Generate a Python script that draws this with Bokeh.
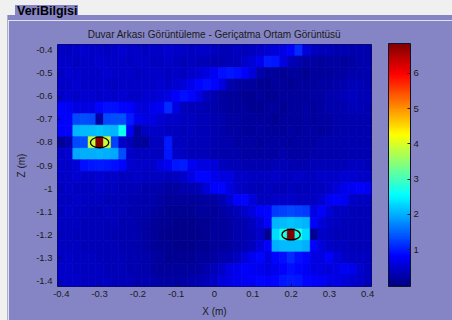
import numpy as np
from bokeh.plotting import figure
from bokeh.models import (LinearColorMapper, ColorBar, Range1d, ColumnDataSource,
                          FixedTicker, Div)
from bokeh.layouts import column, row
from bokeh.embed import file_html
from bokeh.resources import INLINE

# ---------------- data ----------------
title_text = "Duvar Arkası Görüntüleme - Geriçatma Ortam Görüntüsü"
panel_tab = "VeriBilgisi"
x_label = "X (m)"
z_label = "Z (m)"
x_ticks = [-0.4, -0.3, -0.2, -0.1, 0.0, 0.1, 0.2, 0.3, 0.4]
x_tick_labels = ["-0.4", "-0.3", "-0.2", "-0.1", "0", "0.1", "0.2", "0.3", "0.4"]
z_ticks = [-0.4, -0.5, -0.6, -0.7, -0.8, -0.9, -1.0, -1.1, -1.2, -1.3, -1.4]
z_tick_labels = ["-0.4", "-0.5", "-0.6", "-0.7", "-0.8", "-0.9", "-1", "-1.1", "-1.2", "-1.3", "-1.4"]
cbar_ticks = [1, 2, 3, 4, 5, 6]
value_low, value_high = -0.05, 6.85

x_first, x_step = -0.4, 0.02     # 41 columns
z_first, z_step = -0.4, -0.05    # 21 rows (top row first)

target_x = [-0.3, 0.2]
target_z = [-0.8, -1.2]

rows = [
    [0.45,0.4,0.45,0.5,0.45,0.45,0.4,0.45,0.5,0.45,0.45,0.4,0.45, 0.45,0.5,0.45,0.45,0.4,0.45,0.45, 0.4,0.35,0.35,0.4,0.35,0.4,0.45, 0.5,0.55,0.65, 0.8,1.1, 0.55,0.4,0.35,0.35,0.3, 0.3,0.25,0.3,0.25],
    [0.45,0.45,0.4,0.45,0.45,0.5,0.45,0.45,0.45,0.4,0.45,0.45,0.4, 0.4,0.45,0.4,0.35,0.4,0.35,0.35,0.3,0.3,0.35,0.35,0.45,0.55, 0.7, 1.0,0.95, 0.65, 0.35,0.25,0.2,0.2,0.15,0.2,0.2,0.15,0.2,0.25,0.25],
    [0.45,0.5,0.45,0.45,0.45,0.45,0.5,0.45,0.45,0.45,0.4,0.45,0.45, 0.45,0.4,0.45,0.4,0.45,0.5,0.6, 0.75, 0.9,0.95,0.9,0.8, 0.55, 0.25,0.15,0.15,0.1,0.15,0.15,0.1,0.15,0.15,0.15,0.2,0.2,0.25,0.25,0.3],
    [0.45,0.45,0.5,0.45,0.45,0.45,0.45,0.4,0.45,0.45,0.45,0.45,0.45, 0.5,0.45,0.5,0.55, 0.7, 0.85,0.9,0.85, 0.6, 0.3,0.2,0.15,0.15,0.1,0.1,0.15,0.15,0.1,0.15,0.15,0.15,0.2,0.2,0.25,0.3,0.35,0.35,0.3],
    [0.45,0.5,0.45,0.5,0.5,0.45,0.5,0.45,0.5,0.45,0.45,0.5,0.5, 0.55,0.65, 0.8,0.9,0.85, 0.65, 0.4,0.3,0.2,0.15,0.15,0.1,0.1,0.15,0.1,0.1,0.15,0.15,0.15,0.15,0.2,0.2,0.25,0.3,0.35,0.4,0.35,0.35],
    [0.8,0.75,0.65,0.6,0.65,0.85,0.9,0.9,0.85,0.8,0.6,0.55,0.7,0.75,1.1,0.65,0.4,0.35,0.35, 0.3,0.25,0.2,0.15,0.15,0.15,0.1,0.1,0.15,0.15,0.1,0.15,0.15,0.2,0.15,0.2,0.25,0.25,0.3,0.35,0.35,0.3],
    [0.8,0.8,1.3,1.35,1.3,0.2,1.3,1.35,1.35,1.0,0.7,0.65,0.65, 0.5,0.45,0.45,0.4,0.4,0.35,0.35,0.3, 0.25,0.2,0.2,0.15,0.15,0.15,0.15,0.1,0.15,0.15,0.15,0.2,0.15,0.2,0.2,0.25,0.25,0.3,0.3,0.3],
    [0.8,0.8,2.05,2.1,2.1,2.15,2.1,2.05,2.6,0.75,0.15,0.4,0.45, 0.45,0.4,0.4,0.35,0.4,0.35,0.35,0.3, 0.25,0.2,0.2,0.15,0.15,0.2,0.15,0.15,0.15,0.2,0.15,0.2,0.2,0.15,0.2,0.25,0.25,0.25,0.3,0.25],
    [0.15,0.3,1.3,1.35,3.9,6.85,3.9,1.25,0.45,0.35,0.15,0.15,0.4, 0.4,1.0,0.4,0.4,0.35,0.35,0.35,0.3, 0.25,0.25,0.2,0.2,0.2,0.15,0.2,0.2,0.2,0.15,0.2,0.2,0.2,0.25,0.25,0.25,0.3,0.3,0.3,0.3],
    [0.45,0.5,1.95,2.0,2.0,2.05,2.0,1.95,1.35,0.45,0.4,0.4,0.4, 0.4,0.95,0.45,0.4,0.35,0.35,0.35,0.3, 0.25,0.25,0.25,0.2,0.2,0.2,0.2,0.2,0.25,0.2,0.2,0.2,0.25,0.25,0.25,0.25,0.3,0.3,0.3,0.3],
    [0.5,0.45,0.55,0.9,0.95,1.0,0.95,0.9,0.85,0.5,0.45,0.45,0.45, 0.65,0.75,0.95,1.0,0.75,0.65,0.6,0.55, 0.4,0.35,0.35,0.3,0.3,0.3,0.3,0.35,0.35,0.3,0.3,0.3,0.35,0.35,0.35,0.35,0.35,0.4,0.4,0.35],
    [0.45,0.45,0.5,0.45,0.45,0.5,0.45,0.45,0.4,0.4,0.45,0.4,0.4, 0.4,0.35,0.4,0.45,0.65,0.85,0.85,0.7, 0.6,0.6,0.45,0.45,0.4,0.4,0.4,0.45,0.4,0.4,0.45,0.4,0.4,0.45,0.45,0.45,0.5,0.5,0.45,0.45],
    [0.4,0.45,0.4,0.4,0.4,0.45,0.4,0.4,0.35,0.35,0.35,0.3,0.3, 0.25,0.2,0.2,0.25,0.3,0.35,0.55,0.8, 0.85,0.65,0.45,0.4,0.35,0.35,0.4,0.35,0.35,0.4,0.35,0.35,0.4,0.4,0.45,0.55,0.7,0.75,0.8,0.75],
    [0.4,0.4,0.45,0.4,0.4,0.4,0.35,0.35,0.35,0.3,0.3,0.25,0.25, 0.2,0.15,0.15,0.15,0.15,0.15,0.2,0.2, 0.3,0.5,0.8,0.85,0.55,0.4,0.4,0.45,0.45,0.45,0.4,0.4,0.4,0.5,0.75,0.8,0.75,0.45,0.4,0.4],
    [0.4,0.45,0.4,0.4,0.35,0.35,0.4,0.35,0.35,0.3,0.25,0.25,0.2, 0.15,0.1,0.1,0.1,0.1,0.15,0.15,0.15, 0.2,0.25,0.35,0.45,0.6,0.8,0.85,1.2,1.25,1.3,1.25,1.2,0.65,0.8,0.55,0.4,0.4,0.35,0.35,0.35],
    [0.4,0.4,0.4,0.35,0.35,0.35,0.35,0.35,0.3,0.3,0.25,0.2,0.15, 0.1,0.1,0.05,0.05,0.05,0.1,0.1,0.15, 0.15,0.2,0.25,0.3,0.4,0.55,0.8,2.05,2.1,2.15,2.1,2.05,0.8,0.55,0.45,0.4,0.35,0.35,0.35,0.35],
    [0.4,0.4,0.35,0.35,0.35,0.35,0.35,0.3,0.3,0.3,0.25,0.2,0.15, 0.1,0.05,0.05,0.05,0.05,0.05,0.1,0.15, 0.15,0.2,0.25,0.3,0.35,0.45,0.1,2.3,2.7,6.85,2.7,2.3,0.1,0.45,0.4,0.35,0.35,0.35,0.35,0.35],
    [0.4,0.4,0.4,0.35,0.35,0.35,0.35,0.35,0.3,0.3,0.25,0.2,0.15, 0.1,0.1,0.05,0.05,0.05,0.1,0.1,0.15, 0.15,0.2,0.25,0.3,0.4,0.55,0.8,2.0,2.1,2.1,2.1,2.0,0.8,0.55,0.45,0.4,0.4,0.35,0.35,0.35],
    [0.4,0.45,0.4,0.4,0.4,0.35,0.35,0.35,0.35,0.3,0.3,0.25,0.2, 0.15,0.1,0.1,0.1,0.1,0.15,0.15,0.2, 0.25,0.3,0.4,0.55,0.75,0.85,0.65,0.85,0.9,1.1,0.9,0.85,0.65,0.6,0.8,0.55,0.45,0.4,0.4,0.4],
    [0.45,0.45,0.4,0.4,0.4,0.4,0.35,0.35,0.35,0.3,0.3,0.25,0.2, 0.15,0.15,0.15,0.15,0.15,0.2,0.25,0.35, 0.45,0.65,0.7,0.8,0.75,0.7,0.65,0.7,0.8,0.9,0.85,0.75,0.65,0.6,0.55,0.65,0.75,0.7,0.5,0.4],
    [0.45,0.45,0.45,0.4,0.4,0.4,0.4,0.35,0.35,0.35,0.3,0.3,0.25, 0.2,0.2,0.2,0.2,0.25,0.3,0.35,0.45, 0.55,0.65,0.7,0.75,0.8,0.85,0.8,0.85,0.95,1.0,0.95,0.85,0.8,0.75,0.7,0.65,0.55,0.5,0.45,0.4],
]
assert all(len(r) == 41 for r in rows), [len(r) for r in rows]

# ---------------- style ----------------
PURPLE = "#8585c6"
LIGHT = "#f0f0f0"
FONT = "Liberation Sans"
TXT = "#1a1a1a"


def jet(n):
    out = []
    for i in range(n):
        f = i / (n - 1)
        r = min(max(1.5 - abs(4 * f - 3), 0), 1)
        g = min(max(1.5 - abs(4 * f - 2), 0), 1)
        b = min(max(1.5 - abs(4 * f - 1), 0), 1)
        out.append("#%02x%02x%02x" % (int(round(r * 255)), int(round(g * 255)), int(round(b * 255))))
    return out


mapper = LinearColorMapper(palette=jet(256), low=value_low, high=value_high)

L, R, T, B, V = [], [], [], [], []
hx, hz = abs(x_step) / 2, abs(z_step) / 2
for ri, rw in enumerate(rows):
    zc = z_first + ri * z_step
    for ki, v in enumerate(rw):
        xc = x_first + ki * x_step
        L.append(xc - hx); R.append(xc + hx)
        T.append(zc + hz); B.append(zc - hz)
        V.append(v)
src = ColumnDataSource(dict(l=L, r=R, t=T, b=B, v=V))

ncols = len(rows[0])
nrows = len(rows)
x0 = x_first - hx
x1 = x_first + (ncols - 1) * x_step + hx
z_top = z_first + hz
z_bot = z_first + (nrows - 1) * z_step - hz

p = figure(width=444, height=300, x_range=Range1d(x0, x1), y_range=Range1d(z_bot, z_top),
           output_backend="svg", toolbar_location=None,
           min_border_left=49, min_border_right=81, min_border_top=24, min_border_bottom=34,
           background_fill_color=PURPLE, border_fill_color=PURPLE,
           outline_line_color="#101040", outline_line_width=1, margin=0)

p.quad(left="l", right="r", top="t", bottom="b", source=src,
       fill_color={"field": "v", "transform": mapper},
       line_color={"field": "v", "transform": mapper}, line_width=0.6)

p.ellipse(x=target_x, y=target_z, width=0.048, height=0.046,
          fill_alpha=0, line_color="black", line_width=1.3)

p.title.text = title_text
p.title.align = "center"
p.title.text_font = FONT
p.title.text_font_size = "10px"
p.title.text_font_style = "normal"
p.title.text_color = TXT

p.xgrid.visible = False
p.ygrid.visible = False

p.xaxis.ticker = FixedTicker(ticks=x_ticks)
p.yaxis.ticker = FixedTicker(ticks=z_ticks)
p.xaxis.major_label_overrides = {t: s for t, s in zip(x_ticks, x_tick_labels)}
p.yaxis.major_label_overrides = {t: s for t, s in zip(z_ticks, z_tick_labels)}
p.xaxis.axis_label = x_label
p.yaxis.axis_label = z_label
for ax in (p.xaxis[0], p.yaxis[0]):
    ax.major_label_text_font = FONT
    ax.major_label_text_font_size = "9.5px"
    ax.major_label_text_color = TXT
    ax.axis_label_text_font = FONT
    ax.axis_label_text_font_size = "10px"
    ax.axis_label_text_font_style = "normal"
    ax.axis_label_text_color = TXT
    ax.major_tick_in = 3
    ax.major_tick_out = 0
    ax.minor_tick_line_color = None
    ax.major_tick_line_color = "#101040"
    ax.axis_line_color = None
p.xaxis.major_label_standoff = 4
p.xaxis.axis_label_standoff = 6
p.yaxis.major_label_standoff = 5
p.yaxis.axis_label_standoff = 6

cb = ColorBar(color_mapper=mapper, width=22, height=243, location=(17, 0),
              padding=0, margin=0, ticker=FixedTicker(ticks=cbar_ticks),
              major_label_text_font=FONT, major_label_text_font_size="9.5px",
              major_label_text_color=TXT, label_standoff=3,
              major_tick_line_color="#202020", major_tick_in=3, major_tick_out=0,
              bar_line_color="#101030", bar_line_width=1,
              background_fill_alpha=0, border_line_color=None)
p.add_layout(cb, "right")

# ---------------- window chrome (HTML) ----------------
top_html = (
    '<div style="position:relative;width:452px;height:20px;background:%s;overflow:hidden;">'
    '<div style="position:absolute;left:0;top:0;width:452px;height:15px;background:%s;"></div>'
    '<div style="position:absolute;left:0;top:0;width:7px;height:20px;background:%s;"></div>'
    '<div style="position:absolute;left:7px;top:15px;width:1px;height:5px;background:#b0b0c0;"></div>'
    '<div style="position:absolute;left:15px;top:5px;width:63px;height:15px;background:%s;"></div>'
    '<div style="position:absolute;left:17px;top:4px;font-family:\'Liberation Sans\';font-weight:bold;'
    'font-size:12.5px;line-height:15px;color:#000;white-space:nowrap;">%s</div>'
    '</div>' % (PURPLE, LIGHT, LIGHT, PURPLE, panel_tab)
)
top_div = Div(text=top_html, width=452, height=20, margin=0)
left_html = (
    '<div style="position:relative;width:8px;height:300px;background:%s;">'
    '<div style="position:absolute;left:7px;top:0;width:1px;height:300px;background:#b0b0c0;"></div>'
    '</div>' % LIGHT
)
left_div = Div(text=left_html, width=8, height=300, margin=0)

layout = column(top_div, row(left_div, p, spacing=0, margin=0), spacing=0, margin=0)

open("out.html", "w").write(file_html(layout, INLINE))
